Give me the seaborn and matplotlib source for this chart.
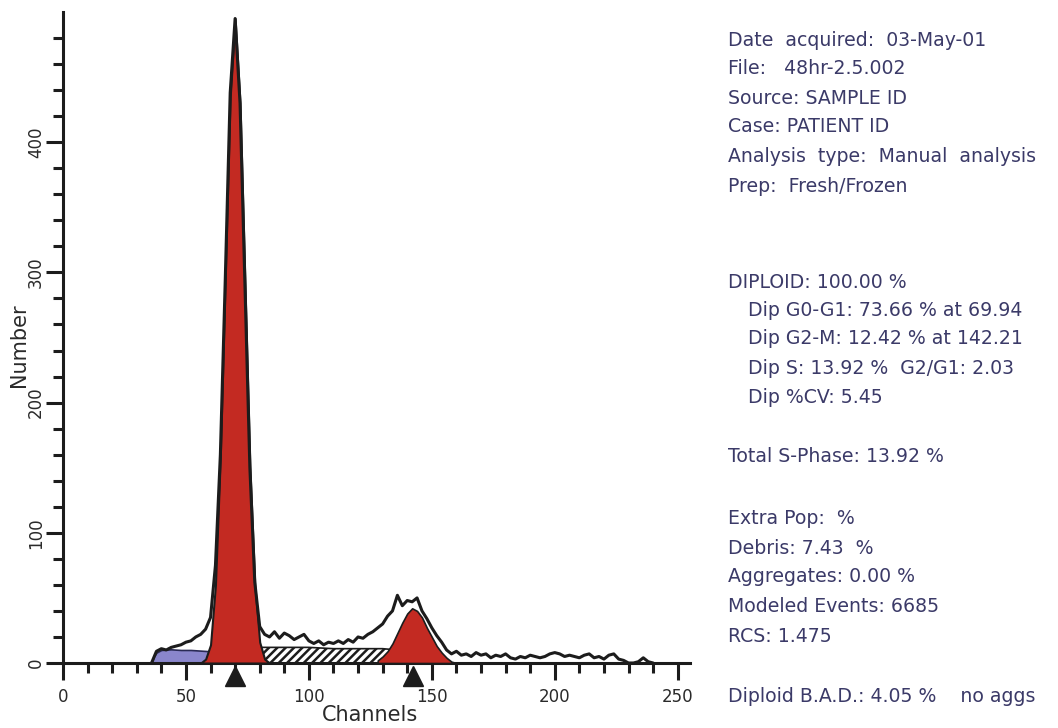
import matplotlib
matplotlib.use("Agg")
import matplotlib.pyplot as plt
import seaborn as sns
import numpy as np

# ---------------- data ----------------
# measured DNA histogram (channel, count)
hist_ch = [36, 38, 40, 42, 44, 46, 48, 50, 52, 54, 56, 58, 60, 62, 64, 66, 68, 70, 72, 74,
           76, 78, 80, 82, 84, 86, 88, 90, 92, 94, 96, 98, 100, 102, 104, 106, 108, 110, 112, 114,
           116, 118, 120, 122, 124, 126, 128, 130, 132, 134, 136, 138, 140, 142, 144, 146, 148, 150, 152, 154,
           156, 158, 160, 162, 164, 166, 168, 170, 172, 174, 176, 178, 180, 182, 184, 186, 188, 190, 192, 194,
           196, 198, 200, 202, 204, 206, 208, 210, 212, 214, 216, 218, 220, 222, 224, 226, 228, 230, 232, 234,
           236, 238, 240]
hist_n = [0, 9, 11, 10, 12, 13, 14, 16, 17, 20, 22, 26, 35, 75, 160, 295, 438, 495, 430, 290,
          150, 62, 28, 22, 20, 24, 19, 23, 21, 18, 20, 22, 17, 15, 17, 14, 16, 15, 17, 15,
          18, 16, 20, 19, 22, 24, 27, 30, 36, 40, 52, 44, 48, 47, 50, 40, 34, 27, 21, 16,
          10, 7, 9, 6, 7, 5, 8, 6, 7, 4, 6, 5, 7, 4, 3, 5, 4, 6, 5, 4,
          5, 7, 8, 7, 5, 6, 5, 4, 6, 7, 4, 5, 3, 6, 7, 3, 2, 0, 0, 1,
          4, 1, 0]

# modelled components
debris_ch = [36, 37, 38, 40, 44, 48, 52, 56, 60, 64, 68, 72, 74, 76]
debris_n = [0, 5, 8, 10, 10.5, 10, 10, 9.5, 9, 8.5, 8, 6, 3, 0]

sphase_ch = [70, 72, 76, 80, 90, 100, 110, 120, 130, 136, 140, 144, 148]
sphase_n = [0, 6, 11, 12, 12, 12, 11, 11, 11, 10, 8, 4, 0]

g1_ch = [56, 58, 60, 62, 64, 66, 68, 70, 72, 74, 76, 78, 80, 82, 84]
g1_n = [0, 3, 14, 60, 160, 298, 435, 495, 430, 292, 152, 60, 16, 3, 0]

g2_ch = [128, 130, 132, 134, 136, 138, 140, 142, 144, 146, 148, 150, 152, 154, 156, 158, 160]
g2_n = [2, 5, 9, 15, 23, 31, 38, 42, 40, 35, 27, 20, 13, 8, 4, 1, 0]

peak_means = [69.94, 142.21]

x_major = [0, 50, 100, 150, 200, 250]
y_major = [0, 100, 200, 300, 400]

info_lines = [
    ("Date  acquired:  03-May-01", 0),
    ("File:   48hr-2.5.002", 0),
    ("Source: SAMPLE ID", 0),
    ("Case: PATIENT ID", 0),
    ("Analysis  type:  Manual  analysis", 0),
    ("Prep:  Fresh/Frozen", 0),
    ("DIPLOID: 100.00 %", 0),
    ("Dip G0-G1: 73.66 % at 69.94", 1),
    ("Dip G2-M: 12.42 % at 142.21", 1),
    ("Dip S: 13.92 %  G2/G1: 2.03", 1),
    ("Dip %CV: 5.45", 1),
    ("Total S-Phase: 13.92 %", 0),
    ("Extra Pop:  %", 0),
    ("Debris: 7.43  %", 0),
    ("Aggregates: 0.00 %", 0),
    ("Modeled Events: 6685", 0),
    ("RCS: 1.475", 0),
    ("Diploid B.A.D.: 4.05 %    no aggs", 0),
]
info_y_px = [40, 68, 98, 127, 157, 187, 283, 310, 338, 368, 398, 457, 518, 548, 577, 607, 637, 697]

# ---------------- style ----------------
sns.set_style("ticks")
plt.rcParams['font.family'] = ['DejaVu Sans']
plt.rcParams['hatch.linewidth'] = 1.8

W, H = 1058, 728
fig = plt.figure(figsize=(W / 100, H / 100), dpi=100)
ax = fig.add_axes([63 / W, (H - 663) / H, (690 - 63) / W, (663 - 12) / H])

red = '#c32a22'
purple = '#8a86cc'
ink = '#1c1c1c'
txt = '#3b3a68'

ax.fill_between(debris_ch, debris_n, 0, facecolor=purple, edgecolor='#2a2a55', linewidth=1.2, zorder=2)
ax.fill_between(sphase_ch, sphase_n, 0, facecolor='white', edgecolor=ink, hatch='////', linewidth=1.2, zorder=2)
ax.fill_between(g1_ch, g1_n, 0, facecolor=red, edgecolor=ink, linewidth=1.5, zorder=3)
ax.fill_between(g2_ch, g2_n, 0, facecolor=red, edgecolor=ink, linewidth=1.2, zorder=3)

sns.lineplot(x=hist_ch, y=hist_n, ax=ax, color=ink, linewidth=2.2, zorder=4)

ax.plot(peak_means, [-10, -10], linestyle='none', marker='^', markersize=14,
        color=ink, clip_on=False, zorder=5)

ax.set_xlim(0, 255)
ax.set_ylim(0, 500)

for s in ['top', 'right']:
    ax.spines[s].set_visible(False)
for s in ['left', 'bottom']:
    ax.spines[s].set_linewidth(2.2)
    ax.spines[s].set_color(ink)

ax.set_xticks(x_major)
ax.set_xticks(np.arange(0, 251, 10), minor=True)
ax.set_yticks(y_major)
ax.set_yticks(np.arange(0, 481, 20), minor=True)
ax.set_yticklabels([str(v) for v in y_major], rotation=90, va='center')
ax.tick_params(axis='both', which='both', bottom=True, left=True, top=False, right=False)
ax.tick_params(axis='both', which='major', direction='out', length=12, width=2.2,
               color=ink, labelsize=12, labelcolor='#2a2a2a', pad=2)
ax.tick_params(axis='both', which='minor', direction='out', length=7, width=2.2, color=ink)
ax.tick_params(axis='y', which='major', pad=1)
ax.tick_params(axis='x', which='major', pad=6)

ax.set_xlabel("Channels", fontsize=15, color='#2a2a2a', va='center')
ax.set_ylabel("Number", fontsize=15, color='#2a2a2a', va='center')
ax.xaxis.set_label_coords((370 - 63) / (690 - 63), -52 / (663 - 12))
ax.yaxis.set_label_coords(-44 / (690 - 63), (663 - 345) / (663 - 12))

for (line, indent), ypx in zip(info_lines, info_y_px):
    xpx = 748 if indent else 728
    fig.text(xpx / W, 1 - ypx / H, line, fontsize=13.6, color=txt, va='center', ha='left')

fig.savefig("out.png", dpi=100, facecolor='white')
